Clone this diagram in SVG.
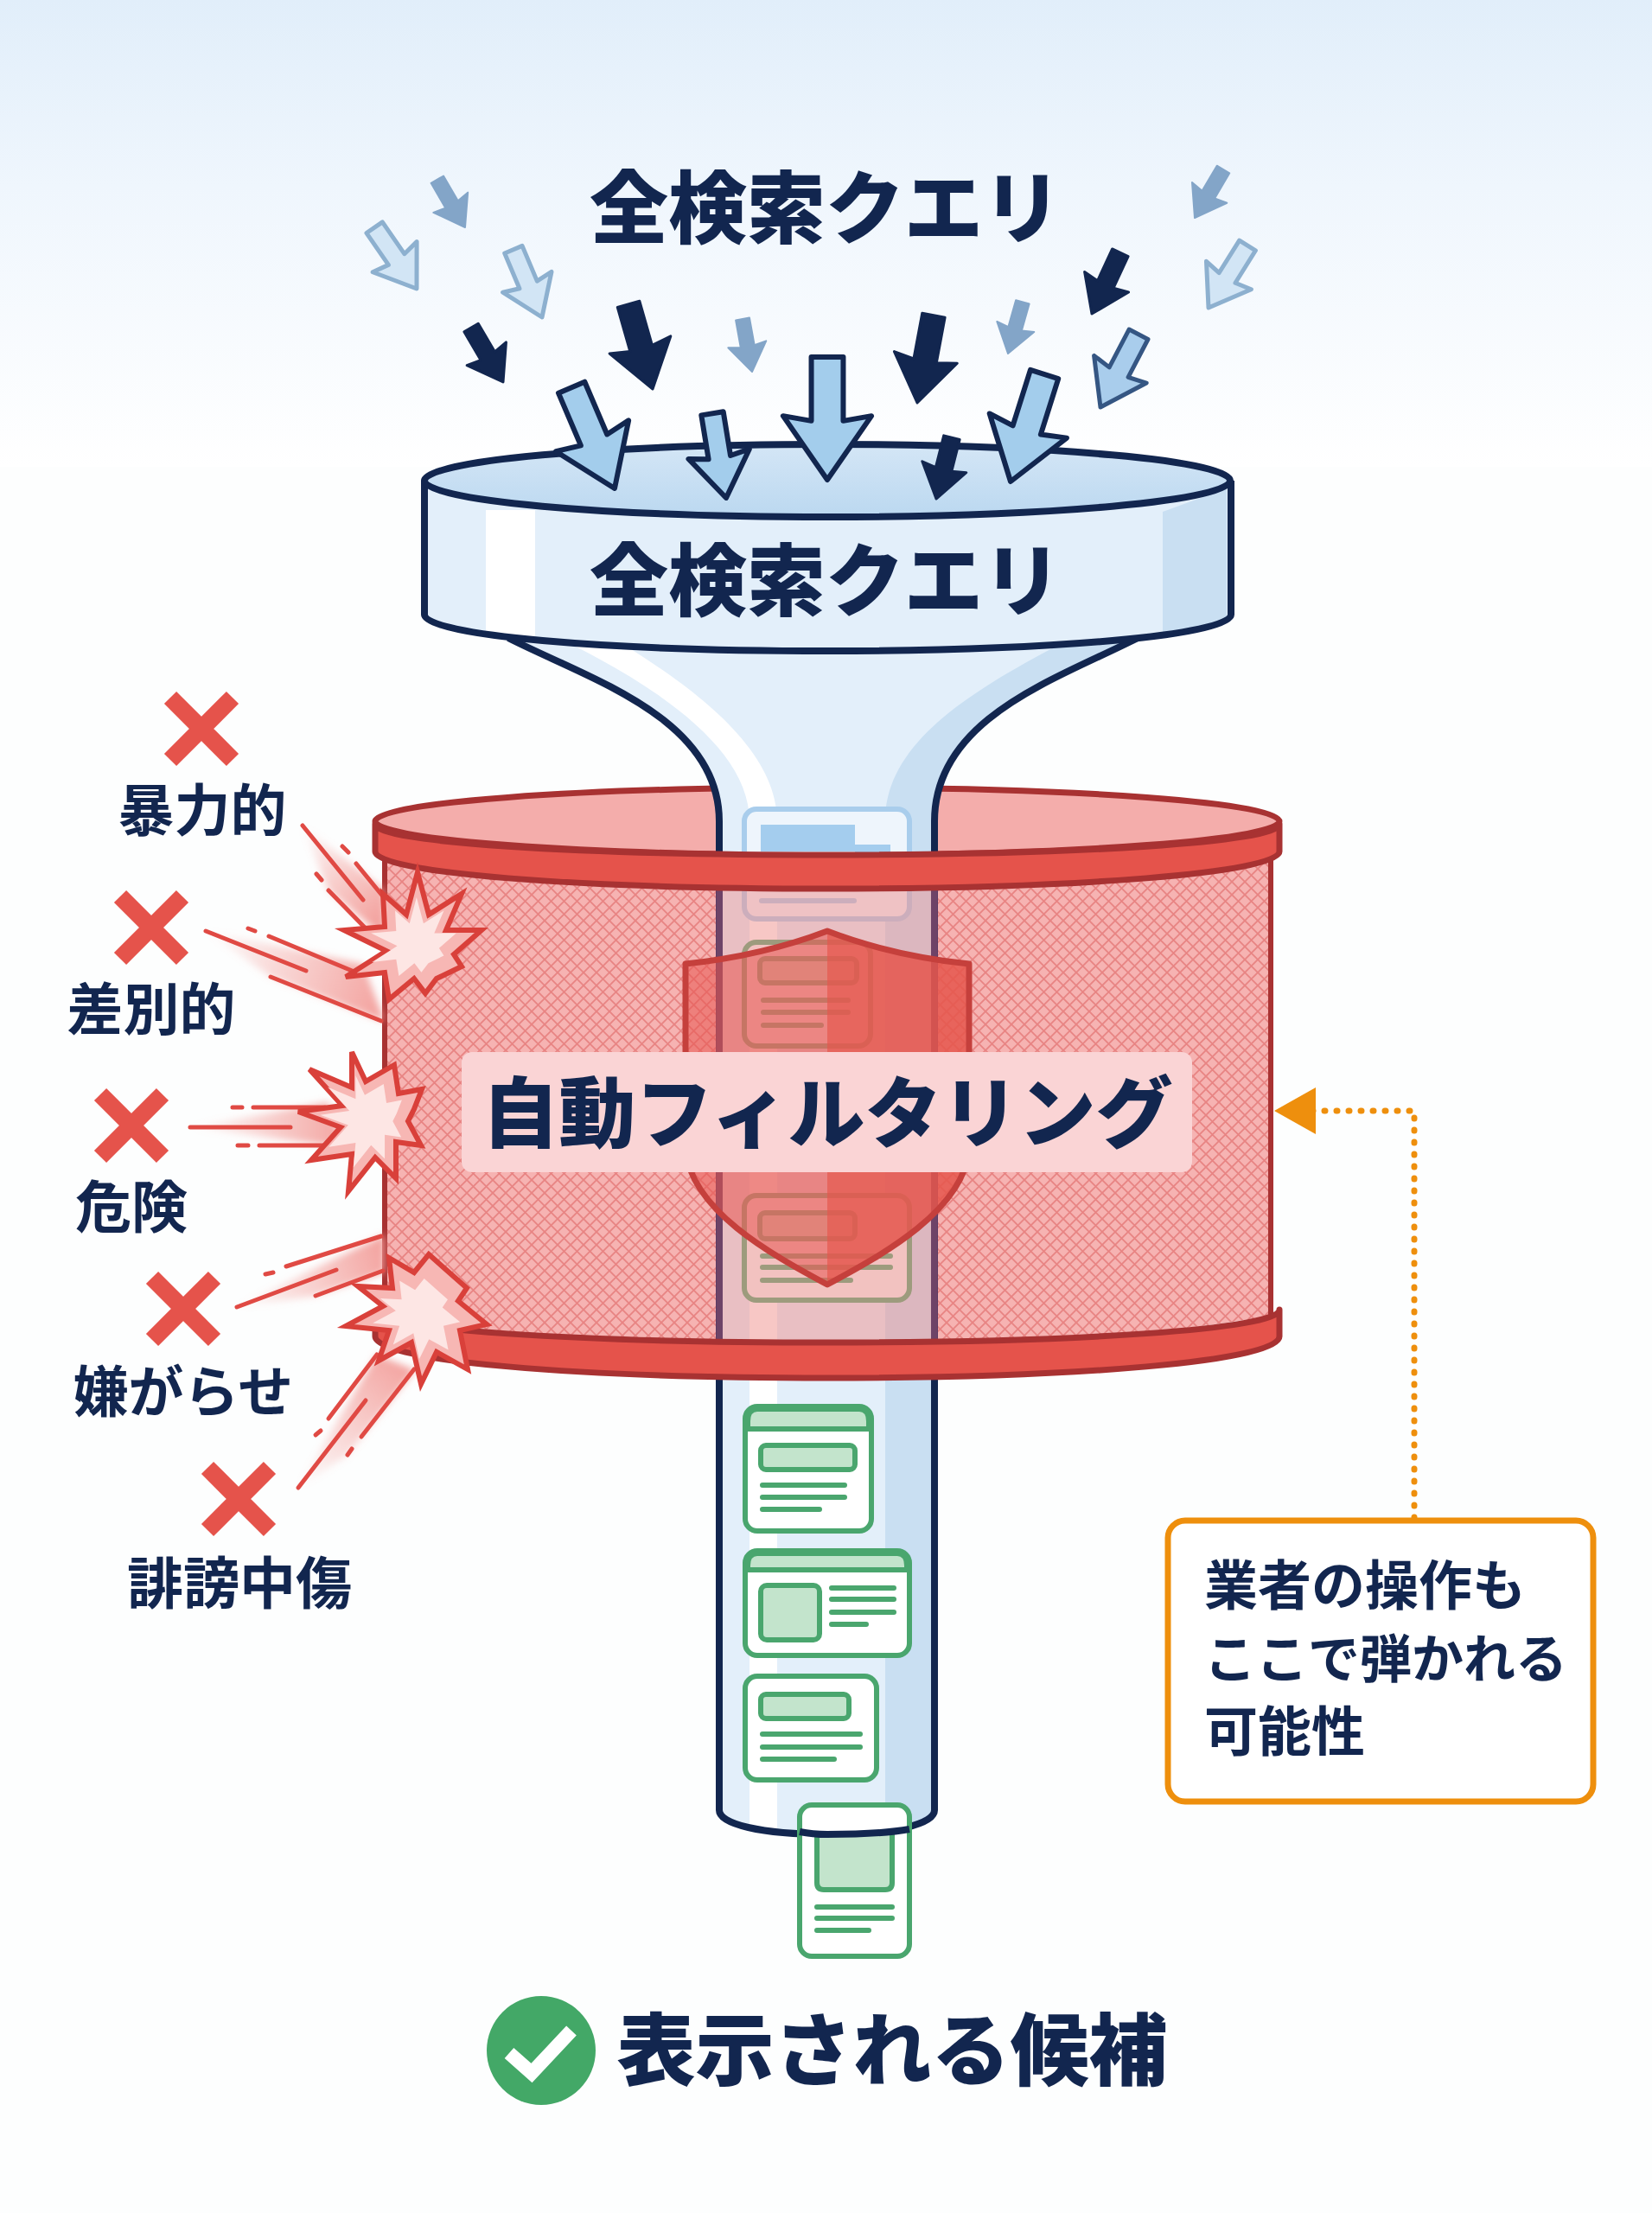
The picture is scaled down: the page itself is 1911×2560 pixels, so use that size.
<svg xmlns="http://www.w3.org/2000/svg" width="1911" height="2560" viewBox="0 0 1911 2560">
<style>
text{font-family:"Noto Sans CJK JP","Noto Sans",sans-serif;fill:#12264f}
.h{font-size:91px;font-weight:900;text-anchor:middle}
.l{font-size:65px;font-weight:700;text-anchor:middle}
.n{font-size:60px;font-weight:700}
.arw{vector-effect:non-scaling-stroke;stroke-linejoin:round}
.a{fill:#a3cdec;stroke:#12264f;stroke-width:6}
.a2{fill:#a9cdec;stroke:#355683;stroke-width:5}
.d{fill:#12264f;stroke:#12264f;stroke-width:3}
.m{fill:#83a5c8;stroke:#83a5c8;stroke-width:2}
.p{fill:#d2e5f5;stroke:#8db0cf;stroke-width:5}
.card{fill:#fff;stroke:#4aa66e;stroke-width:6}
.in{fill:#c3e4cc;stroke:#4aa66e;stroke-width:6}
.ln{stroke:#4aa66e;stroke-width:6;stroke-linecap:round;fill:none}
.x{stroke:#e5534b;stroke-width:20;fill:none}
.s{stroke:#e04a44;stroke-width:5;stroke-linecap:round;fill:none}
.w{filter:url(#bl)}
.bo{fill:#f7b7b4;stroke:#d9403a;stroke-width:6;stroke-linejoin:miter}
.bi{fill:#fde6e4}
.fn{stroke:#12264f;stroke-width:8;fill:none;stroke-linejoin:round}
</style>
<defs>
<linearGradient id="sky" x1="0" y1="0" x2="0" y2="1"><stop offset="0" stop-color="#e1eefa"/><stop offset=".4" stop-color="#eff6fd"/><stop offset="1" stop-color="#fff"/></linearGradient>
<linearGradient id="rimtop" x1="0" y1="0" x2="0" y2="1"><stop offset="0" stop-color="#d4e6f6"/><stop offset="1" stop-color="#bbd8f0"/></linearGradient>
<pattern id="mesh" width="15" height="15" patternUnits="userSpaceOnUse"><rect width="15" height="15" fill="#f6b3b2"/><path d="M0 0L15 15M15 0L0 15" stroke="#e88483" stroke-width="1.8"/></pattern>
<filter id="bl" x="-20%" y="-20%" width="140%" height="140%"><feGaussianBlur stdDeviation="4"/></filter>
<path id="arrow" class="arw" d="M-13-100L13-100L13-48L36-52L0 0L-36-52L-13-48Z"/>
<linearGradient id="g1" gradientUnits="userSpaceOnUse" x1="350" y1="955" x2="440" y2="1060"><stop offset="0" stop-color="#f29a96" stop-opacity="0"/><stop offset="1" stop-color="#f29a96" stop-opacity=".9"/></linearGradient>
<linearGradient id="g2" gradientUnits="userSpaceOnUse" x1="238" y1="1077" x2="445" y2="1150"><stop offset="0" stop-color="#f29a96" stop-opacity="0"/><stop offset="1" stop-color="#f29a96" stop-opacity=".9"/></linearGradient>
<linearGradient id="g3" gradientUnits="userSpaceOnUse" x1="220" y1="1304" x2="400" y2="1304"><stop offset="0" stop-color="#f29a96" stop-opacity="0"/><stop offset="1" stop-color="#f29a96" stop-opacity=".9"/></linearGradient>
<linearGradient id="g4" gradientUnits="userSpaceOnUse" x1="274" y1="1512" x2="445" y2="1450"><stop offset="0" stop-color="#f29a96" stop-opacity="0"/><stop offset="1" stop-color="#f29a96" stop-opacity=".9"/></linearGradient>
<linearGradient id="g5" gradientUnits="userSpaceOnUse" x1="345" y1="1721" x2="470" y2="1580"><stop offset="0" stop-color="#f29a96" stop-opacity="0"/><stop offset="1" stop-color="#f29a96" stop-opacity=".9"/></linearGradient>
<polygon id="b1" points="483,1009 496,1058 534,1034 516,1076 557,1076 525,1104 534,1118 505,1132 492,1149 479,1132 450,1156 445,1125 400,1130 447,1100 398,1076 445,1072 443,1034 470,1058"/>
<polygon id="b2" points="407,1217 423,1251 456,1232 461,1265 488,1260 479,1283 472,1297 487,1325 458,1321 458,1363 434,1339 403,1378 407,1335 360,1342 394,1304 345,1286 396,1279 358,1237 407,1258"/>
<polygon id="b3" points="496,1451 540,1490 530,1505 563,1532 532,1539 541,1584 505,1564 487,1601 476,1553 438,1574 450,1539 400,1534 443,1511 414,1488 454,1490 450,1455 479,1472"/>
</defs>
<rect width="1911" height="2560" fill="#fdfefe"/>
<rect width="1911" height="540" fill="url(#sky)"/>

<g id="filter-back">
<path d="M445 980V1522C600 1548 800 1560 957 1560C1114 1560 1320 1548 1470 1522V980Z" fill="url(#mesh)"/>
<path d="M445 980V1525M1470 980V1525" stroke="#a83232" stroke-width="6" fill="none"/>
<ellipse cx="957" cy="950" rx="523" ry="39" fill="#f4adab" stroke="#a83232" stroke-width="7"/>
</g>

<g id="funnel">
<path d="M588 738C680 785 832 830 832 950V2094C832 2110 880 2122 957 2122C1034 2122 1081 2110 1081 2094V950C1081 830 1224 785 1316 738Z" fill="#e3effa"/>
<path d="M660 745C770 800 867 870 867 950V2112L899 2116V950C899 870 810 800 720 745Z" fill="#fff"/>
<path d="M1316 738C1224 785 1081 830 1081 950V2094C1081 2105 1060 2112 1024 2117V950C1024 860 1120 800 1240 738Z" fill="#c9dff2"/>
<path class="fn" d="M588 738C680 785 832 830 832 950V2094C832 2110 880 2122 957 2122C1034 2122 1081 2110 1081 2094V950C1081 830 1224 785 1316 738"/>
<path d="M491 556V711C491 735 700 753 957 753C1214 753 1424 735 1424 711V556Z" fill="#e3effa"/>
<rect x="562" y="590" width="57" height="150" fill="#fff"/>
<path d="M1345 592L1419 565V716C1400 730 1370 735 1345 738Z" fill="#c9dff2"/>
<path class="fn" d="M491 556V711C491 735 700 753 957 753C1214 753 1424 735 1424 711V556"/>
<ellipse class="fn" cx="957" cy="556" rx="466" ry="42" style="fill:url(#rimtop)"/>
</g>

<g id="cards-in-filter">
<rect x="861" y="936" width="191" height="127" rx="14" fill="#eef5fc" stroke="#a9cdec" stroke-width="6"/>
<path d="M880 954H989V985H880ZM989 977H1030V990H989Z" fill="#a4cdee"/>
<path d="M881 1042H988" stroke="#a9cdec" stroke-width="6" stroke-linecap="round"/>
<rect class="card" x="861" y="1090" width="146" height="120" rx="14" style="fill:#f5f5f5"/>
<rect class="in" x="879" y="1109" width="112" height="28" rx="6"/>
<path class="ln" d="M883 1157H981M883 1171H981M883 1186H950"/>
<rect class="card" x="861" y="1383" width="191" height="121" rx="14" style="fill:#f5f5f5"/>
<rect class="in" x="879" y="1403" width="110" height="30" rx="6"/>
<path class="ln" d="M882 1453H1030M882 1466H1030M882 1481H984"/>
</g>

<rect id="tube-tint" x="829" y="1000" width="255" height="550" fill="#ef8f8c" opacity=".5"/>
<path id="tube-walls" d="M832 1020V1552M1081 1020V1552" stroke="#6b4066" stroke-width="8" opacity=".85" fill="none"/>

<g id="shield">
<path d="M957 1077C910 1095 860 1108 793 1115V1330C800 1400 890 1450 957 1486Z" fill="#e85550" fill-opacity=".55"/>
<path d="M957 1077C1004 1095 1054 1108 1121 1115V1330C1114 1400 1024 1450 957 1486Z" fill="#e5564c" fill-opacity=".85"/>
<path d="M957 1077C910 1095 860 1108 793 1115V1330C800 1400 890 1450 957 1486C1024 1450 1114 1400 1121 1330V1115C1054 1108 1004 1095 957 1077Z" fill="none" stroke="#c5403c" stroke-width="7" stroke-linejoin="round"/>
</g>

<g id="filter-bands">
<path d="M434 953C434 975 670 989 957 989C1244 989 1480 975 1480 953V985C1480 1010 1244 1028 957 1028C670 1028 434 1010 434 985Z" fill="#e5534b" stroke="#a83232" stroke-width="7" stroke-linejoin="round"/>
<path d="M434 1517C434 1538 670 1553 957 1553C1244 1553 1480 1538 1480 1515V1546C1480 1575 1244 1594 957 1594C670 1594 434 1575 434 1546Z" fill="#e5534b" stroke="#a83232" stroke-width="7" stroke-linejoin="round"/>
</g>

<g id="filter-label">
<rect x="534" y="1217" width="845" height="139" rx="12" fill="#fad4d5"/>
<text x="957" y="1320" text-anchor="middle" font-size="89" font-weight="900">自動フィルタリング</text>
</g>

<g id="output-cards">
<g id="card1"><rect class="card" x="862" y="1627" width="146" height="144" rx="14"/><path d="M865 1653V1644Q865 1630 876 1630H994Q1005 1630 1005 1644V1653Z" class="in"/><rect class="in" x="880" y="1672" width="109" height="28" rx="6"/><path class="ln" d="M882 1718H977M882 1732H977M882 1746H948"/></g>
<g id="card2"><rect class="card" x="862" y="1794" width="190" height="121" rx="14"/><path d="M865 1816V1811Q865 1797 876 1797H1038Q1049 1797 1049 1811V1816Z" class="in"/><rect class="in" x="880" y="1834" width="68" height="63" rx="7"/><path class="ln" d="M962 1837H1034M962 1850H1034M962 1865H1034M962 1879H1002"/></g>
<g id="card3"><rect class="card" x="862" y="1939" width="152" height="120" rx="14"/><rect class="in" x="880" y="1960" width="102" height="28" rx="6"/><path class="ln" d="M882 2006H995M882 2021H995M882 2035H965"/></g>
<g id="card4"><rect class="card" x="925" y="2088" width="127" height="175" rx="14"/><path class="in" d="M945 2119V2178Q945 2186 953 2186H1024Q1032 2186 1032 2178V2119"/><path class="ln" d="M945 2206H1032M945 2219H1032M945 2233H1005"/></g>
<path class="fn" d="M925 2119Q940 2122 957 2122C1000 2122 1030 2120 1052 2116"/>
</g>

<g id="query-arrows">
<use href="#arrow" class="p" transform="translate(482 334) rotate(-34.6) scale(.86)"/>
<use href="#arrow" class="p" transform="translate(627 367) rotate(-22.9) scale(.85)"/>
<use href="#arrow" class="p" transform="translate(1398 356) rotate(32) scale(.85)"/>
<use href="#arrow" class="m" transform="translate(538 263) rotate(-30.2) scale(.64)"/>
<use href="#arrow" class="m" transform="translate(870 430) rotate(-10.2) scale(.62)"/>
<use href="#arrow" class="m" transform="translate(1166 409) rotate(15.8) scale(.62)"/>
<use href="#arrow" class="m" transform="translate(1382 252) rotate(30.5) scale(.65)"/>
<use href="#arrow" class="d" transform="translate(582 442) rotate(-30.4) scale(.73)"/>
<use href="#arrow" class="d" transform="translate(755 450) rotate(-15.9) scale(1.02)"/>
<use href="#arrow" class="d" transform="translate(1061 466) rotate(10.6) scale(1.03)"/>
<use href="#arrow" class="d" transform="translate(1263 363) rotate(24.9) scale(.78)"/>
<use href="#arrow" class="d" transform="translate(1083 577) rotate(14.2) scale(.73)"/>
<use href="#arrow" class="a" transform="translate(711 565) rotate(-23.1) scale(1.27)"/>
<use href="#arrow" class="a" transform="translate(840 576) rotate(-9.3) scale(.99)"/>
<use href="#arrow" class="a" transform="translate(957 555) scale(1.42)"/>
<use href="#arrow" class="a" transform="translate(1169 557) rotate(17.5) scale(1.3)"/>
<use href="#arrow" class="a2" transform="translate(1273 471) rotate(27.6) scale(.95)"/>
</g>

<text id="title-top" class="h" x="955" y="274">全検索クエリ</text>
<text id="title-funnel" class="h" x="955" y="705">全検索クエリ</text>

<g id="connectors">
<g id="streak1"><path class="w" d="M350 955L445 1030V1085L380 1030Z" fill="url(#g1)"/><path class="s" d="M350 955L420 1041M396 979L403 986M412 999L443 1037M366 1011L372 1018M380 1030L425 1076"/></g>
<g id="streak2"><path class="w" d="M238 1077L420 1115L445 1182L313 1130Z" fill="url(#g2)"/><path class="s" d="M238 1077L354 1123M287 1074L295 1077M311 1083L412 1125M313 1130L441 1181"/></g>
<g id="streak3"><path class="w" d="M220 1304L380 1275L400 1335L380 1325Z" fill="url(#g3)"/><path class="s" d="M220 1304L336 1304M269 1281L280 1281M293 1281L376 1281M275 1325L287 1325M300 1325L380 1325"/></g>
<g id="streak4"><path class="w" d="M274 1512L445 1428V1472L365 1499Z" fill="url(#g4)"/><path class="s" d="M274 1512L389 1469M307 1474L316 1472M331 1465L441 1430M365 1499L443 1470"/></g>
<g id="streak5"><path class="w" d="M345 1721L436 1567L480 1585L402 1683Z" fill="url(#g5)"/><path class="s" d="M345 1721L423 1620M365 1660L371 1655M380 1641L436 1567M402 1683L407 1676M418 1662L479 1584"/></g>
<g id="note-link"><path d="M1636 1756V1285H1510" fill="none" stroke="#ee8f0d" stroke-width="7" stroke-linecap="round" stroke-dasharray="1 13"/><path d="M1474 1285L1522 1258V1312Z" fill="#ee8f0d"/></g>
</g>

<g id="bursts">
<use href="#b1" class="bo"/><use href="#b1" class="bi" transform="translate(480 1085) scale(.62) translate(-480 -1085)"/>
<use href="#b2" class="bo"/><use href="#b2" class="bi" transform="translate(420 1297) scale(.66) translate(-420 -1297)"/>
<use href="#b3" class="bo"/><use href="#b3" class="bi" transform="translate(482 1525) scale(.62) translate(-482 -1525)"/>
</g>

<g id="n-boryoku"><path class="x" d="M197 807L269 879M269 807L197 879"/><text class="l" x="234" y="961">暴力的</text></g>
<g id="n-sabetsu"><path class="x" d="M139 1037L211 1109M211 1037L139 1109"/><text class="l" x="175" y="1191">差別的</text></g>
<g id="n-kiken"><path class="x" d="M116 1266L188 1338M188 1266L116 1338"/><text class="l" x="152" y="1420">危険</text></g>
<g id="n-iyagarase"><path class="x" d="M176 1478L248 1550M248 1478L176 1550"/><text class="l" x="212" y="1633" style="font-size:64px">嫌がらせ</text></g>
<g id="n-hibou"><path class="x" d="M240 1698L312 1770M312 1698L240 1770"/><text class="l" x="277" y="1855">誹謗中傷</text></g>

<g id="note">
<rect x="1351" y="1759" width="492" height="325" rx="20" fill="#fff" stroke="#ee8f0d" stroke-width="7"/>
<text class="n" x="1393" y="1857" style="font-size:62px">業者の操作も</text>
<text class="n" x="1393" y="1941">ここで弾かれる</text>
<text class="n" x="1393" y="2026" style="font-size:62px">可能性</text>
</g>

<g id="result">
<circle cx="626" cy="2372" r="63" fill="#43a867"/>
<path d="M589 2375L615 2398L661 2349" fill="none" stroke="#fff" stroke-width="16"/>
<text x="1032" y="2405" text-anchor="middle" font-size="91" font-weight="900">表示される候補</text>
</g>
</svg>
